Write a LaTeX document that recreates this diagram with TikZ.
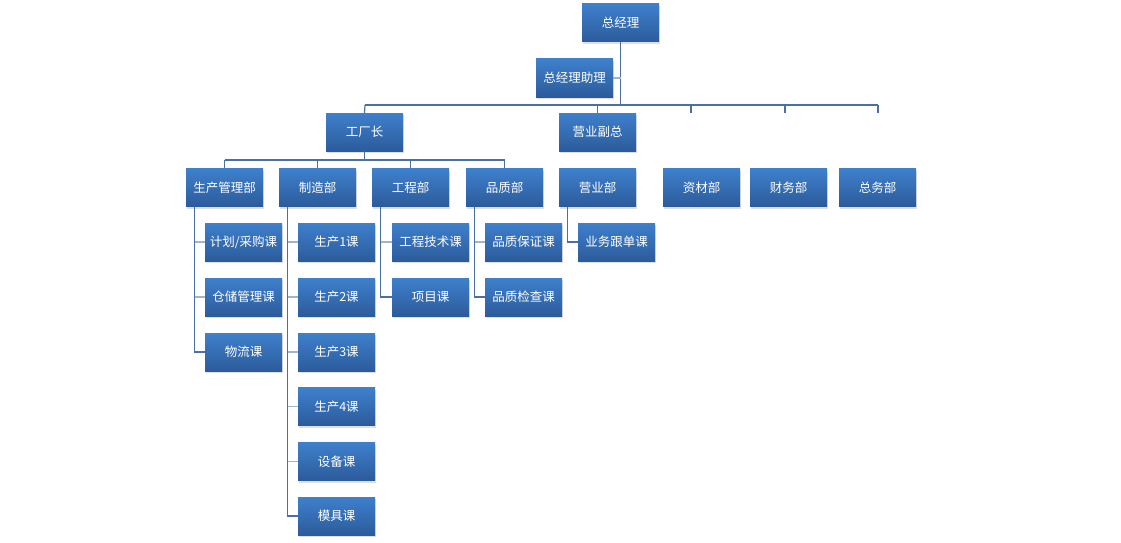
\documentclass[tikz,border=0pt]{standalone}
\usepackage{fontspec}
\setmainfont{Noto Sans CJK SC}
\usetikzlibrary{shadows}
\definecolor{boxtop}{RGB}{62,128,204}
\definecolor{boxbot}{RGB}{44,91,155}
\definecolor{linedark}{RGB}{74,110,168}
\definecolor{linelite}{RGB}{160,180,208}
\begin{document}
\begin{tikzpicture}[x=1pt,y=-1pt,
  unit/.style={rectangle,minimum width=77pt,minimum height=38pt,inner sep=0pt,
    top color=boxtop,bottom color=boxbot,text=white,font=\fontsize{12.5}{14}\selectfont,
    drop shadow={shadow xshift=1pt,shadow yshift=-2pt,opacity=0.25,fill=gray}},
  conn/.style={draw=linedark,line width=1.2pt},
  stub/.style={draw=linelite,line width=1.6pt}]
\useasboundingbox (0,0) rectangle (1121,543);
% top
\node[unit] (gm) at (620.5,23) {总经理};
\node[unit] (asst) at (574.5,78) {总经理助理};
\node[unit] (fm) at (364.5,132) {工厂长};
\node[unit] (vp) at (597.5,132) {营业副总};
% departments
\node[unit] (prodmgr) at (224.5,187.5) {生产管理部};
\node[unit] (mfg) at (317.5,187.5) {制造部};
\node[unit] (eng) at (410.5,187.5) {工程部};
\node[unit] (qual) at (504.5,187.5) {品质部};
\node[unit] (sales) at (597.5,187.5) {营业部};
\node[unit] (matl) at (701.5,187.5) {资材部};
\node[unit] (fin) at (788.5,187.5) {财务部};
\node[unit] (admin) at (877.5,187.5) {总务部};
% sections
\node[unit] (plan) at (243.5,242) {计划/采购课};
\node[unit] (store) at (243.5,297) {仓储管理课};
\node[unit] (logis) at (243.5,352) {物流课};
\node[unit] (prod1) at (336.5,242) {生产1课};
\node[unit] (prod2) at (336.5,297) {生产2课};
\node[unit] (prod3) at (336.5,352) {生产3课};
\node[unit] (prod4) at (336.5,406.5) {生产4课};
\node[unit] (equip) at (336.5,461.5) {设备课};
\node[unit] (mold) at (336.5,516) {模具课};
\node[unit] (tech) at (430.5,242) {工程技术课};
\node[unit] (proj) at (430.5,297) {项目课};
\node[unit] (qa) at (523.5,242) {品质保证课};
\node[unit] (qc) at (523.5,297) {品质检查课};
\node[unit] (follow) at (616.5,242) {业务跟单课};
% buses
\coordinate (busA) at (365,105);
\coordinate (busB) at (224,160);
\coordinate (tick1) at (691,113);
\coordinate (tick2) at (785,113);
\coordinate (tick3) at (878,113);
\draw[conn] (gm.south) -- (gm.south |- busA);
\draw[stub] (asst.east) -- (asst.east -| gm.south);
\draw[conn] (busA) -- (tick3 |- busA);
\draw[conn] (busA) -- (fm.north);
\draw[conn] (vp.north |- busA) -- (vp.north);
\draw[conn] (tick1 |- busA) -- (tick1);
\draw[conn] (tick2 |- busA) -- (tick2);
\draw[conn] (tick3 |- busA) -- (tick3);
\draw[conn] (fm.south) -- (fm.south |- busB);
\draw[conn] (prodmgr.north |- busB) -- (qual.north |- busB);
\foreach \d in {prodmgr,mfg,eng,qual}
  \draw[conn] (\d.north |- busB) -- (\d.north);
% section lines
\draw[conn] ([xshift=-30pt]prodmgr.south) |- (logis.west);
\foreach \s in {plan,store}
  \draw[stub] (\s.west) -- ([xshift=-30pt]\s.west -| prodmgr.south);
\draw[conn] ([xshift=-30pt]mfg.south) |- (mold.west);
\foreach \s in {prod1,prod2,prod3,prod4,equip}
  \draw[stub] (\s.west) -- ([xshift=-30pt]\s.west -| mfg.south);
\draw[conn] ([xshift=-30pt]eng.south) |- (proj.west);
\draw[stub] (tech.west) -- ([xshift=-30pt]tech.west -| eng.south);
\draw[conn] ([xshift=-30pt]qual.south) |- (qc.west);
\draw[stub] (qa.west) -- ([xshift=-30pt]qa.west -| qual.south);
\draw[conn] ([xshift=-30pt]sales.south) |- (follow.west);
\end{tikzpicture}
\end{document}
